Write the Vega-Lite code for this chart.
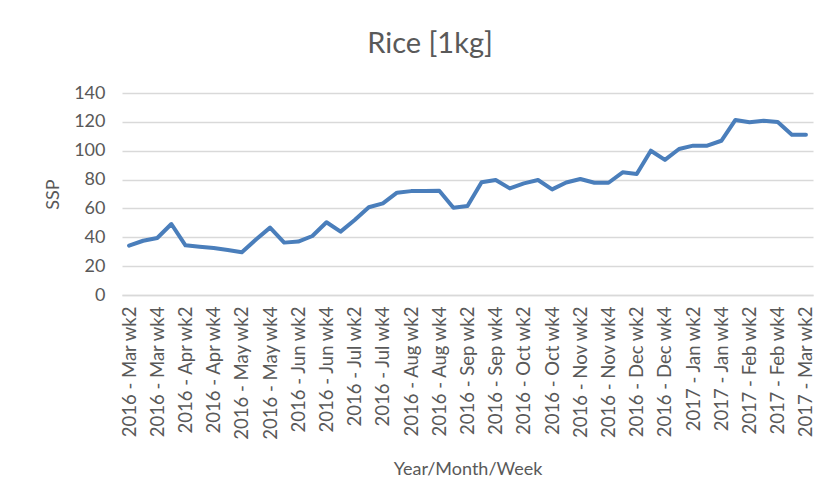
{
  "$schema": "https://vega.github.io/schema/vega-lite/v6.json",
  "autosize": "none",
  "width": 691,
  "height": 202,
  "padding": {"left": 122, "top": 93, "right": 13, "bottom": 207},
  "background": "white",
  "title": {
    "text": "Rice [1kg]",
    "frame": "bounds",
    "anchor": "middle",
    "font": "Lato",
    "fontSize": 29,
    "fontWeight": "normal",
    "color": "#595959",
    "offset": 25
  },
  "data": {
    "values": [
      {"week": "2016 - Mar wk2", "price": 34.2},
      {"week": "2016 - Mar wk3", "price": 37.6},
      {"week": "2016 - Mar wk4", "price": 39.5},
      {"week": "2016 - Apr wk1", "price": 49.2},
      {"week": "2016 - Apr wk2", "price": 34.4},
      {"week": "2016 - Apr wk3", "price": 33.5},
      {"week": "2016 - Apr wk4", "price": 32.5},
      {"week": "2016 - May wk1", "price": 31.2},
      {"week": "2016 - May wk2", "price": 29.6},
      {"week": "2016 - May wk3", "price": 38.5},
      {"week": "2016 - May wk4", "price": 46.7},
      {"week": "2016 - Jun wk1", "price": 36.3},
      {"week": "2016 - Jun wk2", "price": 37.0},
      {"week": "2016 - Jun wk3", "price": 40.9},
      {"week": "2016 - Jun wk4", "price": 50.4},
      {"week": "2016 - Jul wk1", "price": 43.9},
      {"week": "2016 - Jul wk2", "price": 52.0},
      {"week": "2016 - Jul wk3", "price": 60.8},
      {"week": "2016 - Jul wk4", "price": 63.5},
      {"week": "2016 - Aug wk1", "price": 70.9},
      {"week": "2016 - Aug wk2", "price": 72.0},
      {"week": "2016 - Aug wk3", "price": 72.0},
      {"week": "2016 - Aug wk4", "price": 72.2},
      {"week": "2016 - Sep wk1", "price": 60.5},
      {"week": "2016 - Sep wk2", "price": 61.7},
      {"week": "2016 - Sep wk3", "price": 78.1},
      {"week": "2016 - Sep wk4", "price": 79.7},
      {"week": "2016 - Oct wk1", "price": 73.9},
      {"week": "2016 - Oct wk2", "price": 77.4},
      {"week": "2016 - Oct wk3", "price": 79.7},
      {"week": "2016 - Oct wk4", "price": 73.2},
      {"week": "2016 - Nov wk1", "price": 78.0},
      {"week": "2016 - Nov wk2", "price": 80.4},
      {"week": "2016 - Nov wk3", "price": 77.8},
      {"week": "2016 - Nov wk4", "price": 77.8},
      {"week": "2016 - Dec wk1", "price": 85.0},
      {"week": "2016 - Dec wk2", "price": 83.9},
      {"week": "2016 - Dec wk3", "price": 100.0},
      {"week": "2016 - Dec wk4", "price": 93.6},
      {"week": "2017 - Jan wk1", "price": 101.2},
      {"week": "2017 - Jan wk2", "price": 103.5},
      {"week": "2017 - Jan wk3", "price": 103.5},
      {"week": "2017 - Jan wk4", "price": 106.9},
      {"week": "2017 - Feb wk1", "price": 121.3},
      {"week": "2017 - Feb wk2", "price": 119.7},
      {"week": "2017 - Feb wk3", "price": 120.8},
      {"week": "2017 - Feb wk4", "price": 119.9},
      {"week": "2017 - Mar wk1", "price": 111.1},
      {"week": "2017 - Mar wk2", "price": 111.1}
    ]
  },
  "mark": {"type": "line", "color": "#4a7ebb", "strokeWidth": 4, "strokeJoin": "round", "strokeCap": "round"},
  "encoding": {
    "x": {
      "field": "week",
      "type": "ordinal",
      "sort": null,
      "title": "Year/Month/Week",
      "scale": {"type": "point", "padding": 0.5},
      "axis": {
        "values": ["2016 - Mar wk2", "2016 - Mar wk4", "2016 - Apr wk2", "2016 - Apr wk4", "2016 - May wk2", "2016 - May wk4", "2016 - Jun wk2", "2016 - Jun wk4", "2016 - Jul wk2", "2016 - Jul wk4", "2016 - Aug wk2", "2016 - Aug wk4", "2016 - Sep wk2", "2016 - Sep wk4", "2016 - Oct wk2", "2016 - Oct wk4", "2016 - Nov wk2", "2016 - Nov wk4", "2016 - Dec wk2", "2016 - Dec wk4", "2017 - Jan wk2", "2017 - Jan wk4", "2017 - Feb wk2", "2017 - Feb wk4", "2017 - Mar wk2"],
        "labelAngle": -90,
        "labelPadding": 11,
        "labelFont": "Lato",
        "labelFontSize": 18.5,
        "labelColor": "#595959",
        "ticks": false,
        "grid": false,
        "domainColor": "#d9d9d9",
        "domainWidth": 1.5,
        "titleFont": "Lato",
        "titleFontSize": 18,
        "titleFontWeight": "normal",
        "titleColor": "#595959",
        "titlePadding": 20
      }
    },
    "y": {
      "field": "price",
      "type": "quantitative",
      "title": "SSP",
      "scale": {"domain": [0, 140], "nice": false},
      "axis": {
        "values": [0, 20, 40, 60, 80, 100, 120, 140],
        "labelFont": "Lato",
        "labelFontSize": 18,
        "labelColor": "#595959",
        "labelPadding": 17,
        "ticks": false,
        "domain": false,
        "grid": true,
        "gridColor": "#d9d9d9",
        "gridWidth": 1.5,
        "titleFont": "Lato",
        "titleFontSize": 18,
        "titleFontWeight": "normal",
        "titleColor": "#595959",
        "titlePadding": 11
      }
    }
  },
  "config": {
    "view": {"stroke": null}
  }
}
